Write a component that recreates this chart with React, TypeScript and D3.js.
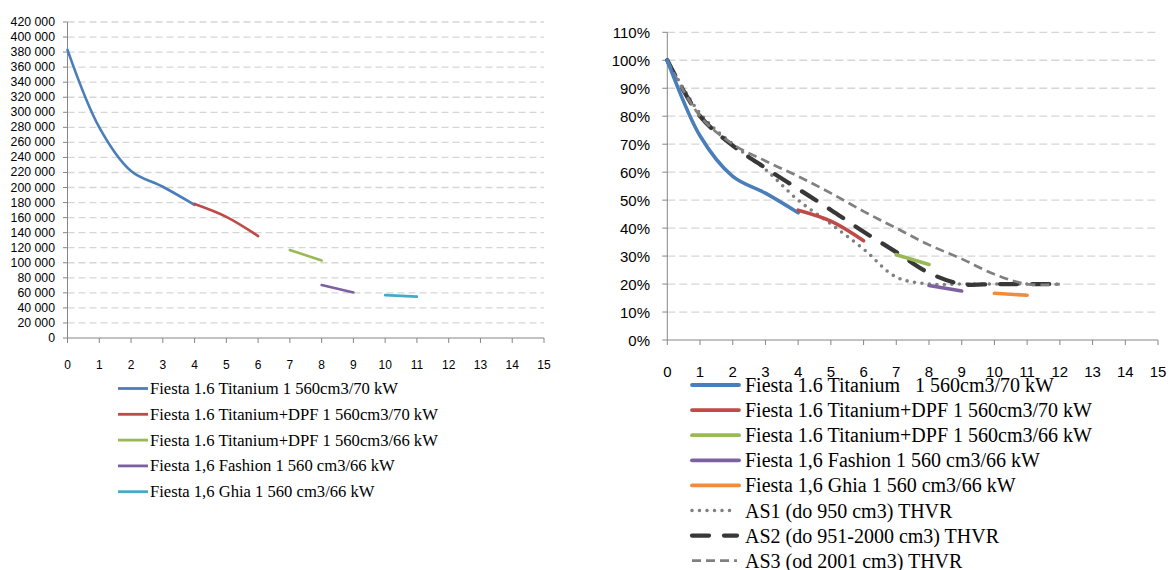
import React from "react";
import * as d3 from "d3";

// ---------- DATA ----------
const xTicks = [0, 1, 2, 3, 4, 5, 6, 7, 8, 9, 10, 11, 12, 13, 14, 15];
const leftYTicks = [0, 20000, 40000, 60000, 80000, 100000, 120000, 140000, 160000, 180000, 200000, 220000, 240000, 260000, 280000, 300000, 320000, 340000, 360000, 380000, 400000, 420000];
const rightYTicks = [0, 10, 20, 30, 40, 50, 60, 70, 80, 90, 100, 110];

const seriesNames = [
  "Fiesta 1.6 Titanium 1 560cm3/70 kW",
  "Fiesta 1.6 Titanium+DPF 1 560cm3/70 kW",
  "Fiesta 1.6 Titanium+DPF 1 560cm3/66 kW",
  "Fiesta 1,6 Fashion 1 560 cm3/66 kW",
  "Fiesta 1,6 Ghia 1 560 cm3/66 kW",
];
const rightNames = [
  "Fiesta 1.6 Titanium\u00a0\u00a0 1 560cm3/70 kW",
  "Fiesta 1.6 Titanium+DPF 1 560cm3/70 kW",
  "Fiesta 1.6 Titanium+DPF 1 560cm3/66 kW",
  "Fiesta 1,6 Fashion 1 560 cm3/66 kW",
  "Fiesta 1,6 Ghia 1 560 cm3/66 kW",
];
const asNames = ["AS1 (do 950 cm3) THVR", "AS2 (do 951-2000 cm3) THVR", "AS3 (od 2001 cm3) THVR"];

const titaniumYears = [0, 1, 2, 3, 4];
const dpf70Years = [4, 5, 6];
const dpf66Years = [7, 8];
const fashionYears = [8, 9];
const ghiaYears = [10, 11];
const asYears = [0, 1, 2, 3, 4, 5, 6, 7, 8, 9, 10, 11, 12];

const titaniumPrice = [383000, 280000, 222000, 201000, 177000];
const dpf70Price = [178000, 161000, 135500];
const dpf66Price = [117000, 103000];
const fashionPrice = [70500, 60500];
const ghiaPrice = [57000, 55000];

const titaniumPct = [100, 73, 58.5, 52.5, 45.5];
const dpf70Pct = [46.4, 42.5, 35.5];
const dpf66Pct = [30.5, 27];
const fashionPct = [19.5, 17.5];
const ghiaPct = [16.7, 16];

const as1Pct = [100, 81, 70, 61, 50, 41.5, 32.5, 22.5, 20, 20, 20, 20, 20];
const as2Pct = [100, 80, 69.5, 61.5, 54, 46.5, 38.7, 31.4, 24, 20, 20, 20, 20];
const as3Pct = [100, 80, 70, 64, 58.5, 52.5, 46, 40, 34, 29, 23.5, 20, 20];

// ---------- STYLE ----------
const colors = ["#4A7EBB", "#BE4B48", "#98B954", "#7D60A0", "#46AAC5"];
const rightColors = ["#4A7EBB", "#BE4B48", "#98B954", "#7D60A0", "#F38B3A"];
const axisColor = "#868686";
const gridColor = "#D6D6D6";
const sans = "'Liberation Sans', Arial, sans-serif";
const serif = "'Liberation Serif', 'Times New Roman', serif";

type Pt = [number, number];
const zip = (xs: number[], ys: number[]): Pt[] => xs.map((x, i) => [x, ys[i]]);

export default function App() {
  // Left chart scales
  const lx = d3.scaleLinear().domain([0, 15]).range([67.5, 544]);
  const ly = d3.scaleLinear().domain([0, 420000]).range([338, 22]);
  // Right chart scales
  const rx = d3.scaleLinear().domain([0, 15]).range([667.3, 1158]);
  const ry = d3.scaleLinear().domain([0, 110]).range([340, 32.3]);

  const curve = d3.curveCatmullRom.alpha(0.5);
  const lLine = d3.line<Pt>().x((d) => lx(d[0])).y((d) => ly(d[1])).curve(curve);
  const rLine = d3.line<Pt>().x((d) => rx(d[0])).y((d) => ry(d[1])).curve(curve);

  const leftSeries: Pt[][] = [
    zip(titaniumYears, titaniumPrice),
    zip(dpf70Years, dpf70Price),
    zip(dpf66Years, dpf66Price),
    zip(fashionYears, fashionPrice),
    zip(ghiaYears, ghiaPrice),
  ];
  const rightSeries: Pt[][] = [
    zip(titaniumYears, titaniumPct),
    zip(dpf70Years, dpf70Pct),
    zip(dpf66Years, dpf66Pct),
    zip(fashionYears, fashionPct),
    zip(ghiaYears, ghiaPct),
  ];
  const asSeries: Pt[][] = [zip(asYears, as1Pct), zip(asYears, as2Pct), zip(asYears, as3Pct)];
  const asStyles = [
    { stroke: "#808080", width: 3.6, dash: "0 7.5", cap: "round" as const },
    { stroke: "#383838", width: 4.3, dash: "17 15", cap: "round" as const },
    { stroke: "#808080", width: 2.7, dash: "9 5", cap: "butt" as const },
  ];
  const fmt = (v: number) => d3.format(",")(v).replace(/,/g, " ");

  const leftLegendY = (i: number) => 388.5 + i * 25.8;
  const rightLegendY = (i: number) => 385 + i * 25.1;

  return (
    <div>
      <svg
        width={1171}
        height={570}
        style={{ position: "fixed", left: 0, top: 0, background: "#fff", display: "block" }}
      >
        <rect x={0} y={0} width={1171} height={570} fill="#fff" />

        {/* ================= LEFT CHART ================= */}
        <g>
          {leftYTicks.filter((t) => t > 0).map((t) => (
            <line key={"lg" + t} x1={lx(0)} x2={lx(15)} y1={ly(t)} y2={ly(t)}
              stroke={gridColor} strokeWidth={1.3} strokeDasharray="7 4" />
          ))}
          {leftYTicks.map((t) => (
            <g key={"ly" + t}>
              <line x1={lx(0) - 4.5} x2={lx(0)} y1={ly(t)} y2={ly(t)} stroke={axisColor} />
              <text x={55} y={ly(t)} textAnchor="end" dominantBaseline="central"
                fontFamily={sans} fontSize={12.3} fill="#000">{fmt(t)}</text>
            </g>
          ))}
          <line x1={lx(0)} x2={lx(0)} y1={ly(420000)} y2={ly(0)} stroke={axisColor} />
          <line x1={lx(0)} x2={lx(15)} y1={ly(0)} y2={ly(0)} stroke={axisColor} />
          {xTicks.map((t) => (
            <g key={"lx" + t}>
              <line x1={lx(t)} x2={lx(t)} y1={ly(0)} y2={ly(0) + 5} stroke={axisColor} />
              <text x={lx(t)} y={365} textAnchor="middle" dominantBaseline="central"
                fontFamily={sans} fontSize={12} fill="#000">{t}</text>
            </g>
          ))}
          {leftSeries.map((s, i) => (
            <path key={"ls" + i} d={lLine(s) || ""} fill="none" stroke={colors[i]}
              strokeWidth={2.6} strokeLinecap="round" strokeLinejoin="round" />
          ))}
          {seriesNames.map((n, i) => (
            <g key={"ll" + i}>
              <line x1={118} x2={148} y1={leftLegendY(i)} y2={leftLegendY(i)} stroke={colors[i]} strokeWidth={2.8} />
              <text x={150} y={leftLegendY(i)} dominantBaseline="central"
                fontFamily={serif} fontSize={16.6} fill="#000">{n}</text>
            </g>
          ))}
        </g>

        {/* ================= RIGHT CHART ================= */}
        <g>
          {rightYTicks.filter((t) => t > 0).map((t) => (
            <line key={"rg" + t} x1={rx(0)} x2={rx(15)} y1={ry(t)} y2={ry(t)}
              stroke={gridColor} strokeWidth={1.3} strokeDasharray="8 4" />
          ))}
          {rightYTicks.map((t) => (
            <g key={"ry" + t}>
              <line x1={rx(0) - 5} x2={rx(0)} y1={ry(t)} y2={ry(t)} stroke={axisColor} />
              <text x={650} y={ry(t)} textAnchor="end" dominantBaseline="central"
                fontFamily={sans} fontSize={15} fill="#000">{t + "%"}</text>
            </g>
          ))}
          <line x1={rx(0)} x2={rx(0)} y1={ry(110)} y2={ry(0)} stroke={axisColor} />
          <line x1={rx(0)} x2={rx(15)} y1={ry(0)} y2={ry(0)} stroke={axisColor} />
          {xTicks.map((t) => (
            <g key={"rx" + t}>
              <line x1={rx(t)} x2={rx(t)} y1={ry(0)} y2={ry(0) + 5} stroke={axisColor} />
              <text x={rx(t)} y={371} textAnchor="middle" dominantBaseline="central"
                fontFamily={sans} fontSize={15} fill="#000">{t}</text>
            </g>
          ))}
          {asSeries.map((s, i) => (
            <path key={"as" + i} d={rLine(s) || ""} fill="none" stroke={asStyles[i].stroke}
              strokeWidth={asStyles[i].width} strokeDasharray={asStyles[i].dash}
              strokeLinecap={asStyles[i].cap} strokeLinejoin="round" />
          ))}
          {rightSeries.map((s, i) => (
            <path key={"rs" + i} d={rLine(s) || ""} fill="none" stroke={rightColors[i]}
              strokeWidth={3.6} strokeLinecap="round" strokeLinejoin="round" />
          ))}
          {rightNames.map((n, i) => (
            <g key={"rl" + i}>
              <line x1={692} x2={739} y1={rightLegendY(i)} y2={rightLegendY(i)} stroke={rightColors[i]}
                strokeWidth={3.8} strokeLinecap="round" />
              <text x={745} y={rightLegendY(i)} dominantBaseline="central"
                fontFamily={serif} fontSize={20} fill="#000">{n}</text>
            </g>
          ))}
          {asNames.map((n, i) => (
            <g key={"al" + i}>
              <line x1={692} x2={737} y1={rightLegendY(5 + i)} y2={rightLegendY(5 + i)} stroke={asStyles[i].stroke}
                strokeWidth={asStyles[i].width} strokeDasharray={asStyles[i].dash}
                strokeLinecap={asStyles[i].cap} />
              <text x={745} y={rightLegendY(5 + i)} dominantBaseline="central"
                fontFamily={serif} fontSize={20} fill="#000">{n}</text>
            </g>
          ))}
        </g>
      </svg>
    </div>
  );
}
